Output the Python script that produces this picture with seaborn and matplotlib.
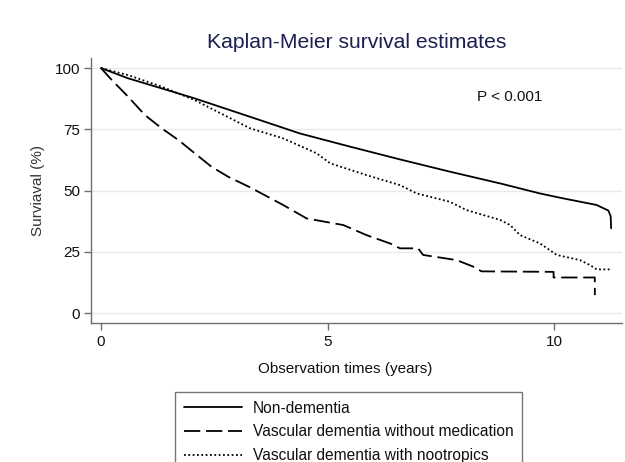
import matplotlib
matplotlib.use("Agg")
import matplotlib.pyplot as plt
import seaborn as sns
import pandas as pd

# ---- data ----
t_non = [0, 0.6, 1.34, 2.07, 3.29, 4.39, 5.5, 6.6, 7.7, 8.81, 9.69, 10.2, 10.94, 11.2, 11.25, 11.26]
s_non = [100, 95.8, 91.7, 87.6, 80.1, 73.3, 67.9, 62.7, 57.7, 52.9, 48.8, 46.8, 44.1, 41.8, 39.5, 34.6]

t_nomed = [0, 0.24, 0.6, 0.97, 1.34, 1.71, 2.07, 2.44, 2.81, 3.18, 3.29, 4.02, 4.54, 5.35, 5.86,
           6.38, 6.6, 7.0, 7.11, 7.85, 8.22, 8.4, 9.99, 9.99, 10.9, 10.9]
s_nomed = [100, 95.1, 88.3, 80.8, 75.4, 70.6, 65.2, 59.7, 55.6, 52.3, 51.3, 44.1, 38.6, 35.9, 31.8,
           28.4, 26.4, 26.4, 23.7, 21.6, 18.9, 17.0, 16.8, 14.5, 14.5, 7.3]

t_noot = [0, 0.6, 1.34, 2.07, 3.29, 4.02, 4.76, 5.06, 5.86, 6.6, 6.97, 7.7, 8.07, 8.81, 9.03,
          9.25, 9.69, 10.06, 10.57, 10.8, 10.94, 11.24]
s_noot = [100, 97.1, 92.4, 86.9, 75.4, 71.3, 65.2, 61.1, 56.3, 52.2, 48.8, 45.4, 42.0, 38.0, 35.9,
          31.8, 28.4, 23.7, 21.6, 19.5, 17.8, 17.8]

labels = ["Non-dementia", "Vascular dementia without medication", "Vascular dementia with nootropics"]
yticks = [0, 25, 50, 75, 100]
xticks = [0, 5, 10]

sns.set_theme(style="white")
plt.rcParams["font.family"] = ["Liberation Sans", "DejaVu Sans"]

fig = plt.figure(figsize=(6.25, 4.62), dpi=100)
ax = fig.add_axes([91/625, 1-323/462, (622-91)/625, (323-58)/462])

df_non = pd.DataFrame({"t": t_non, "s": s_non})
df_nomed = pd.DataFrame({"t": t_nomed, "s": s_nomed})
df_noot = pd.DataFrame({"t": t_noot, "s": s_noot})

lw = 1.3
sns.lineplot(data=df_non, x="t", y="s", ax=ax, color="black", lw=lw, estimator=None, sort=False,
             label=labels[0], linestyle="-")
sns.lineplot(data=df_nomed, x="t", y="s", ax=ax, color="black", lw=lw, estimator=None, sort=False,
             label=labels[1], linestyle=(0, (9, 3.2)))
sns.lineplot(data=df_noot, x="t", y="s", ax=ax, color="black", lw=lw, estimator=None, sort=False,
             label=labels[2], linestyle=(0, (1, 1.4)))

ax.set_xlim(-0.22, 11.5)
ax.set_ylim(-4.08, 104.1)
ax.set_xticks(xticks)
ax.set_yticks(yticks)
ax.yaxis.grid(True, color="#e3ebef", lw=1.0)
ax.xaxis.grid(False)
ax.set_axisbelow(True)
for sp in ["top", "right"]:
    ax.spines[sp].set_visible(False)
for sp in ["left", "bottom"]:
    ax.spines[sp].set_color("#6e6e6e")
    ax.spines[sp].set_linewidth(1.0)
ax.tick_params(axis="both", which="major", length=5, width=1.0, color="#6e6e6e",
               labelsize=11, labelcolor="#111111", direction="out", left=True, bottom=True)
ax.tick_params(axis="y", pad=3)
ax.tick_params(axis="x", pad=4)

ax.set_xlabel("Observation times (years)", fontsize=11, color="#111111")
ax.set_ylabel("Surviaval (%)", fontsize=11, color="#333333")
ax.xaxis.set_label_coords((345-91)/531, (323-369)/265)
ax.yaxis.set_label_coords((38-91)/531, (323-190)/265)
ax.xaxis.label.set_va("center")
ax.yaxis.label.set_va("center")

ax.text(8.3, 88.2, "P < 0.001", fontsize=11, color="#111111", va="center", ha="left")

fig.text(357/625, 1-43/462, "Kaplan-Meier survival estimates", fontsize=15.2, color="#1c2050",
         ha="center", va="center")

ax.get_legend().remove()
handles, labs = ax.get_legend_handles_labels()
leg = fig.legend(handles, labs, loc="upper left", bbox_to_anchor=(175/625, 1-392/462),
                 fontsize=11.2, frameon=True, fancybox=False, shadow=False, borderpad=0.55,
                 labelspacing=0.56, handlelength=3.75, handletextpad=0.7, borderaxespad=0)
leg.get_frame().set_edgecolor("#555555")
leg.get_frame().set_linewidth(1.0)
for txt in leg.get_texts():
    txt.set_color("#111111")

fig.savefig("out.png", dpi=100)
